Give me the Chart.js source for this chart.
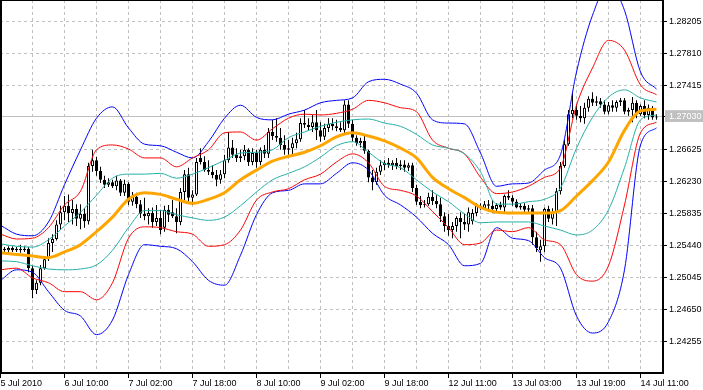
<!DOCTYPE html>
<html>
<head>
<meta charset="utf-8">
<script src="https://cdn.jsdelivr.net/npm/chart.js@4.4.0/dist/chart.umd.min.js"></script>
<style>
html, body { margin: 0; padding: 0; background: #fff; }
canvas { display: block; }
</style>
</head>
<body>
<canvas id="priceChart" width="703" height="390"></canvas>
<script>
// hourly bars, one label every 16 bars
const timeLabels = ['5 Jul 2010', '6 Jul 10:00', '7 Jul 02:00', '7 Jul 18:00', '8 Jul 10:00', '9 Jul 02:00',
	'9 Jul 18:00', '12 Jul 11:00', '13 Jul 03:00', '13 Jul 19:00', '14 Jul 11:00'];
const priceTicks = [1.24255, 1.24650, 1.25045, 1.25440, 1.25835, 1.26230, 1.26625, 1.27415, 1.27810, 1.28205];

const opens = [
	1.2538,1.2540,1.2538,1.2541,1.2538,1.2540,1.2538,1.2540,1.2516,1.2489,
	1.2498,1.2516,1.2527,1.2547,1.2552,1.2570,1.2585,1.2593,1.2584,1.2589,
	1.2577,1.2583,1.2574,1.2642,1.2649,1.2636,1.2625,1.2619,1.2622,1.2617,
	1.2624,1.2609,1.2620,1.2598,1.2604,1.2595,1.2583,1.2580,1.2584,1.2573,
	1.2578,1.2566,1.2588,1.2585,1.2580,1.2573,1.2610,1.2632,1.2603,1.2607,
	1.2652,1.2647,1.2637,1.2635,1.2631,1.2625,1.2632,1.2649,1.2665,1.2656,
	1.2652,1.2654,1.2662,1.2647,1.2658,1.2647,1.2662,1.2657,1.2684,1.2679,
	1.2677,1.2668,1.2662,1.2664,1.2670,1.2675,1.2695,1.2693,1.2690,1.2696,
	1.2686,1.2678,1.2689,1.2694,1.2691,1.2689,1.2686,1.2718,1.2694,1.2677,
	1.2670,1.2673,1.2661,1.2628,1.2622,1.2635,1.2643,1.2646,1.2643,1.2646,
	1.2642,1.2644,1.2640,1.2643,1.2615,1.2598,1.2594,1.2595,1.2604,1.2599,
	1.2595,1.2580,1.2568,1.2563,1.2568,1.2578,1.2573,1.2570,1.2574,1.2584,
	1.2593,1.2590,1.2595,1.2593,1.2589,1.2594,1.2591,1.2605,1.2603,1.2598,
	1.2591,1.2593,1.2588,1.2590,1.2554,1.2538,1.2543,1.2589,1.2577,1.2585,
	1.2611,1.2642,1.2669,1.2706,1.2711,1.2704,1.2701,1.2714,1.2725,1.2720,
	1.2722,1.2718,1.2709,1.2717,1.2714,1.2721,1.2723,1.2709,1.2711,1.2720,
	1.2706,1.2716,1.2705,1.2714,1.2702
];
const highs = [
	1.2543,1.2542,1.2543,1.2543,1.2542,1.2545,1.2543,1.2542,1.2519,1.2501,
	1.2520,1.2531,1.2553,1.2558,1.2575,1.2593,1.2605,1.2607,1.2600,1.2595,
	1.2595,1.2590,1.2646,1.2662,1.2653,1.2641,1.2630,1.2627,1.2625,1.2630,
	1.2626,1.2625,1.2622,1.2610,1.2609,1.2600,1.2603,1.2590,1.2591,1.2594,
	1.2588,1.2593,1.2594,1.2600,1.2590,1.2615,1.2637,1.2640,1.2612,1.2652,
	1.2664,1.2654,1.2649,1.2643,1.2637,1.2637,1.2656,1.2684,1.2674,1.2664,
	1.2662,1.2668,1.2664,1.2664,1.2662,1.2665,1.2668,1.2689,1.2699,1.2701,
	1.2689,1.2680,1.2674,1.2677,1.2683,1.2701,1.2711,1.2701,1.2705,1.2711,
	1.2696,1.2694,1.2701,1.2701,1.2699,1.2696,1.2723,1.2723,1.2699,1.2680,
	1.2677,1.2679,1.2662,1.2637,1.2640,1.2649,1.2649,1.2652,1.2649,1.2652,
	1.2649,1.2649,1.2646,1.2646,1.2619,1.2605,1.2600,1.2609,1.2612,1.2606,
	1.2603,1.2585,1.2583,1.2573,1.2580,1.2585,1.2583,1.2591,1.2589,1.2596,
	1.2596,1.2599,1.2600,1.2600,1.2596,1.2598,1.2607,1.2612,1.2606,1.2601,
	1.2596,1.2596,1.2594,1.2594,1.2561,1.2551,1.2591,1.2593,1.2590,1.2615,
	1.2647,1.2674,1.2711,1.2733,1.2718,1.2716,1.2720,1.2728,1.2733,1.2728,
	1.2726,1.2723,1.2721,1.2723,1.2723,1.2726,1.2726,1.2714,1.2727,1.2723,
	1.2718,1.2723,1.2718,1.2716,1.2706
];
const lows = [
	1.2533,1.2536,1.2535,1.2536,1.2536,1.2535,1.2536,1.2511,1.2479,1.2484,
	1.2495,1.2514,1.2525,1.2536,1.2550,1.2563,1.2575,1.2573,1.2570,1.2568,
	1.2564,1.2566,1.2570,1.2635,1.2630,1.2621,1.2615,1.2616,1.2615,1.2612,
	1.2605,1.2605,1.2594,1.2593,1.2590,1.2578,1.2575,1.2570,1.2566,1.2568,
	1.2558,1.2561,1.2573,1.2578,1.2559,1.2569,1.2600,1.2598,1.2594,1.2605,
	1.2644,1.2635,1.2631,1.2627,1.2617,1.2620,1.2627,1.2646,1.2652,1.2647,
	1.2647,1.2649,1.2642,1.2643,1.2640,1.2643,1.2652,1.2652,1.2674,1.2672,
	1.2662,1.2656,1.2656,1.2656,1.2664,1.2672,1.2689,1.2686,1.2684,1.2674,
	1.2672,1.2674,1.2684,1.2686,1.2685,1.2684,1.2681,1.2689,1.2672,1.2667,
	1.2665,1.2657,1.2622,1.2612,1.2619,1.2631,1.2637,1.2640,1.2637,1.2638,
	1.2637,1.2635,1.2636,1.2610,1.2594,1.2590,1.2591,1.2593,1.2594,1.2590,
	1.2573,1.2561,1.2556,1.2553,1.2561,1.2553,1.2563,1.2561,1.2570,1.2580,
	1.2588,1.2588,1.2589,1.2584,1.2585,1.2588,1.2585,1.2600,1.2593,1.2590,
	1.2588,1.2585,1.2583,1.2545,1.2536,1.2524,1.2536,1.2573,1.2570,1.2568,
	1.2607,1.2640,1.2667,1.2701,1.2699,1.2696,1.2694,1.2709,1.2716,1.2716,
	1.2714,1.2706,1.2706,1.2709,1.2709,1.2716,1.2706,1.2704,1.2696,1.2701,
	1.2704,1.2701,1.2699,1.2699,1.2699
];
const closes = [
	1.2540,1.2538,1.2541,1.2538,1.2540,1.2538,1.2540,1.2516,1.2489,1.2498,
	1.2516,1.2527,1.2547,1.2552,1.2570,1.2585,1.2593,1.2584,1.2589,1.2577,
	1.2583,1.2574,1.2642,1.2649,1.2636,1.2625,1.2619,1.2622,1.2617,1.2624,
	1.2609,1.2620,1.2598,1.2604,1.2595,1.2583,1.2580,1.2584,1.2573,1.2578,
	1.2563,1.2588,1.2582,1.2580,1.2573,1.2610,1.2632,1.2603,1.2607,1.2647,
	1.2647,1.2637,1.2635,1.2631,1.2625,1.2632,1.2649,1.2665,1.2656,1.2652,
	1.2654,1.2662,1.2647,1.2658,1.2647,1.2662,1.2657,1.2684,1.2679,1.2677,
	1.2668,1.2662,1.2664,1.2670,1.2675,1.2695,1.2693,1.2690,1.2696,1.2686,
	1.2678,1.2689,1.2694,1.2691,1.2689,1.2686,1.2718,1.2694,1.2677,1.2670,
	1.2673,1.2661,1.2628,1.2622,1.2635,1.2643,1.2646,1.2643,1.2646,1.2642,
	1.2644,1.2640,1.2643,1.2615,1.2598,1.2594,1.2595,1.2604,1.2599,1.2595,
	1.2580,1.2568,1.2563,1.2568,1.2578,1.2573,1.2570,1.2585,1.2584,1.2593,
	1.2590,1.2595,1.2593,1.2589,1.2594,1.2591,1.2605,1.2603,1.2598,1.2591,
	1.2593,1.2588,1.2590,1.2554,1.2541,1.2543,1.2589,1.2577,1.2585,1.2611,
	1.2642,1.2669,1.2706,1.2711,1.2704,1.2701,1.2714,1.2725,1.2720,1.2722,
	1.2718,1.2709,1.2717,1.2714,1.2721,1.2723,1.2709,1.2711,1.2720,1.2706,
	1.2716,1.2705,1.2714,1.2702,1.2703
];

// indicator lines, one reading every 4 bars
const lineStep = 4;
const maLine = [1.2535,1.2533,1.2531,1.2529,1.2536,1.2545,1.2561,1.2579,1.2601,1.2609,1.2607,1.2601,1.2596,1.2601,
	1.2609,1.2625,1.2637,1.2648,1.2654,1.2659,1.2667,1.2678,1.2683,1.2679,1.2673,1.2664,1.2652,1.2628,
	1.2614,1.2603,1.2591,1.2585,1.2584,1.2584,1.2584,1.2587,1.2605,1.2624,1.2647,1.2686,1.2710,1.2712];
const tealUp = [1.2546,1.2543,1.2542,1.2551,1.2568,1.2585,1.2606,1.2627,1.2632,1.2632,1.2633,1.2627,1.2632,1.2640,
	1.2649,1.2658,1.2659,1.2662,1.2677,1.2684,1.2691,1.2696,1.2699,1.2700,1.2695,1.2691,1.2681,1.2668,
	1.2664,1.2657,1.2635,1.2595,1.2595,1.2598,1.2601,1.2615,1.2664,1.2702,1.2727,1.2736,1.2726,1.2721];
const tealDn = [1.2525,1.2524,1.2519,1.2515,1.2514,1.2515,1.2520,1.2538,1.2566,1.2587,1.2587,1.2582,1.2578,1.2575,
	1.2579,1.2593,1.2610,1.2625,1.2633,1.2641,1.2653,1.2667,1.2672,1.2659,1.2645,1.2640,1.2625,1.2610,
	1.2598,1.2583,1.2572,1.2573,1.2573,1.2573,1.2568,1.2563,1.2557,1.2563,1.2588,1.2640,1.2699,1.2705];
const redUp = [1.2558,1.2552,1.2553,1.2566,1.2594,1.2611,1.2662,1.2668,1.2663,1.2652,1.2652,1.2641,1.2652,1.2662,
	1.2683,1.2684,1.2674,1.2688,1.2701,1.2706,1.2705,1.2707,1.2712,1.2723,1.2720,1.2714,1.2709,1.2674,
	1.2664,1.2657,1.2628,1.2608,1.2610,1.2617,1.2628,1.2640,1.2717,1.2763,1.2797,1.2785,1.2742,1.2730];
const redDn = [1.2514,1.2516,1.2504,1.2498,1.2487,1.2487,1.2477,1.2498,1.2553,1.2567,1.2566,1.2561,1.2558,1.2543,
	1.2545,1.2563,1.2600,1.2610,1.2614,1.2625,1.2632,1.2647,1.2657,1.2646,1.2617,1.2612,1.2605,1.2586,
	1.2566,1.2545,1.2547,1.2563,1.2561,1.2566,1.2551,1.2545,1.2508,1.2500,1.2519,1.2594,1.2683,1.2696];
const blueUp = [1.2569,1.2558,1.2556,1.2573,1.2619,1.2662,1.2701,1.2715,1.2689,1.2669,1.2667,1.2659,1.2652,1.2672,
	1.2701,1.2717,1.2702,1.2699,1.2706,1.2711,1.2720,1.2723,1.2726,1.2746,1.2749,1.2743,1.2732,1.2699,
	1.2695,1.2694,1.2658,1.2617,1.2620,1.2621,1.2637,1.2656,1.2758,1.2828,1.2865,1.2834,1.2758,1.2737];
const blueDn = [1.2501,1.2514,1.2511,1.2487,1.2464,1.2457,1.2434,1.2452,1.2508,1.2545,1.2543,1.2540,1.2524,1.2501,
	1.2495,1.2532,1.2582,1.2609,1.2612,1.2620,1.2620,1.2633,1.2646,1.2637,1.2606,1.2594,1.2579,1.2559,
	1.2545,1.2519,1.2522,1.2566,1.2553,1.2550,1.2529,1.2516,1.2457,1.2436,1.2450,1.2514,1.2668,1.2689];

const lastPrice = closes[closes.length - 1];
const axisFont = { family: 'Liberation Sans', size: 9 };
const gridColor = '#c0c0c0';

function bandLine(values, color, width) {
	return {
		type: 'line',
		data: values.map((v, j) => ({ x: j * lineStep, y: v })),
		borderColor: color,
		borderWidth: width,
		pointRadius: 0,
		cubicInterpolationMode: 'monotone',
		fill: false
	};
}

const framePlugin = {
	id: 'frame',
	afterDraw(chart) {
		let c = chart.ctx, a = chart.chartArea;
		c.save();
		c.fillStyle = '#000';
		c.fillRect(a.left, a.top, 2, a.bottom - a.top);
		c.fillRect(a.left, a.top, a.right - a.left, 1);
		c.fillRect(a.right - 1, a.top, 1, a.bottom - a.top);
		c.fillRect(a.left, a.bottom - 1, a.right - a.left, 1);
		c.restore();
	}
};

let ctx = document.getElementById('priceChart').getContext('2d');

let priceChart = new Chart(ctx, {
	type: 'bar',
	data: {
		datasets: [
			bandLine(maLine, '#ffa500', 3),
			bandLine(tealUp, '#20b2aa', 1),
			bandLine(tealDn, '#20b2aa', 1),
			bandLine(redUp, '#ff0000', 1),
			bandLine(redDn, '#ff0000', 1),
			bandLine(blueUp, '#0000ff', 1),
			bandLine(blueDn, '#0000ff', 1),
			{
				label: 'body',
				data: opens.map((o, i) => ({ x: i, y: [o, closes[i]] })),
				backgroundColor: opens.map((o, i) => closes[i] >= o ? '#ffffff' : '#000000'),
				borderColor: '#000000',
				borderWidth: 1,
				borderSkipped: false,
				barThickness: 3,
				inflateAmount: 0,
				grouped: false
			},
			{
				label: 'wick',
				data: lows.map((l, i) => ({ x: i, y: [l, highs[i]] })),
				backgroundColor: '#000000',
				borderWidth: 0,
				barThickness: 1,
				inflateAmount: 0,
				grouped: false
			}
		]
	},
	options: {
		responsive: false,
		animation: false,
		devicePixelRatio: 1,
		layout: { padding: 0 },
		plugins: {
			legend: { display: false },
			tooltip: { enabled: false }
		},
		scales: {
			x: {
				type: 'linear',
				min: -0.125,
				max: 165.625,
				offset: false,
				grid: {
					offset: false,
					color: gridColor,
					tickLength: 5,
					tickColor: c => (c.tick && c.tick.value % 16 === 0) ? '#000' : 'rgba(0,0,0,0)'
				},
				border: { color: '#000', dash: [3, 3] },
				ticks: {
					align: 'start',
					autoSkip: false,
					maxRotation: 0,
					padding: 0,
					color: '#000',
					font: axisFont,
					callback: v => v % 16 === 0 ? timeLabels[v / 16] : ''
				},
				afterBuildTicks: s => {
					s.ticks = [];
					for (let v = 0; v <= 160; v += 8) s.ticks.push({ value: v });
				},
				afterFit: s => {
					s.height = 17;
					s.paddingLeft = 0;
					s.paddingRight = 0;
				}
			},
			y: {
				position: 'right',
				min: 1.23867,
				max: 1.28468,
				grid: {
					color: gridColor,
					tickLength: 4,
					tickColor: '#000'
				},
				border: {
					color: '#000',
					dash: c => (c.tick && c.tick.value === lastPrice) ? [] : [3, 3]
				},
				ticks: {
					padding: 2,
					font: axisFont,
					color: c => (c.tick && c.tick.value === lastPrice) ? '#fff' : '#000',
					showLabelBackdrop: c => !!(c.tick && c.tick.value === lastPrice),
					backdropColor: gridColor,
					backdropPadding: { top: 1, bottom: 0, left: 4, right: 4 },
					callback: v => v.toFixed(5)
				},
				afterBuildTicks: s => {
					s.ticks = priceTicks.concat([lastPrice]).sort((a, b) => a - b).map(v => ({ value: v }));
				},
				afterFit: s => {
					s.width = 40;
					s.paddingTop = 0;
					s.paddingBottom = 0;
				}
			}
		}
	},
	plugins: [framePlugin]
});
</script>
</body>
</html>
